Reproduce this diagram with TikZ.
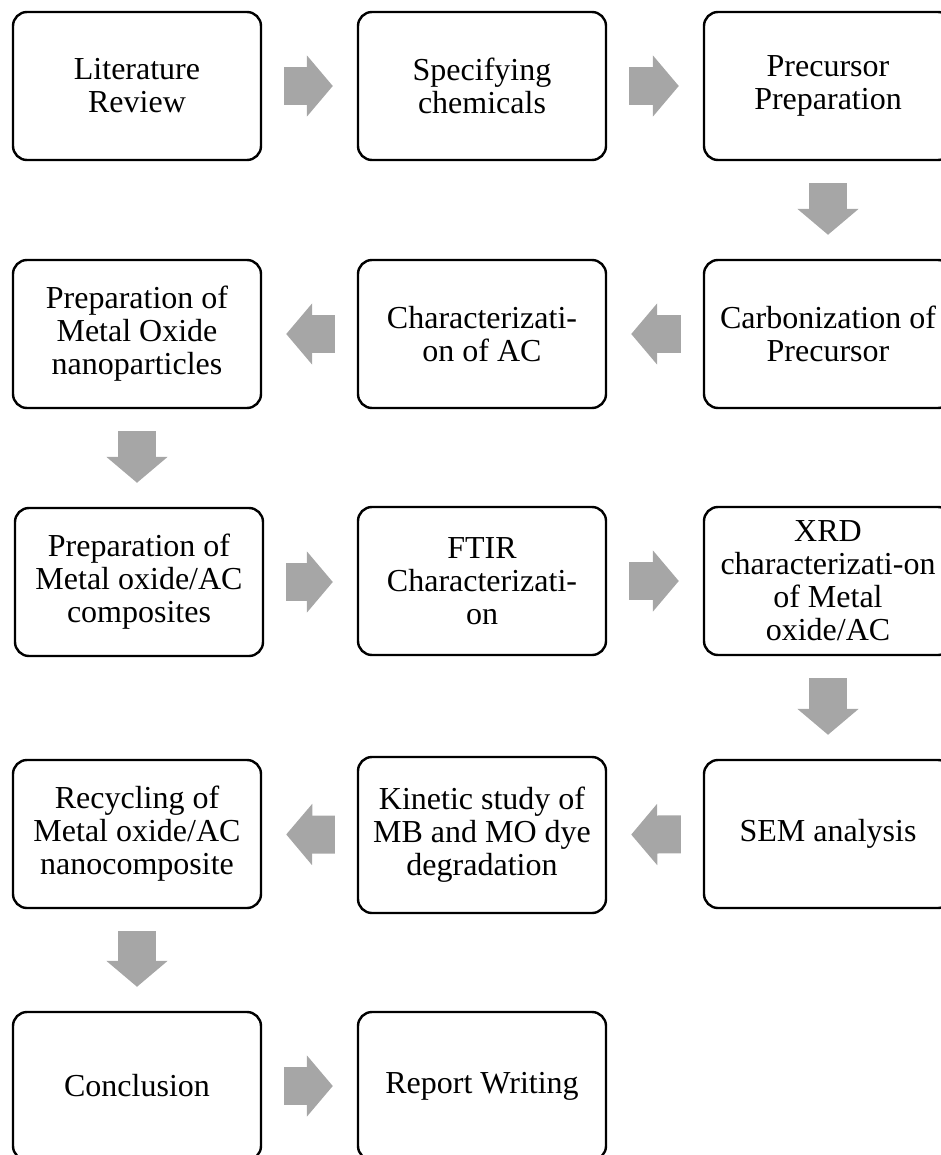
\documentclass[tikz,border=0pt]{standalone}
\usepackage{fontspec}
\setmainfont{Liberation Serif}
\usetikzlibrary{arrows.meta}
\definecolor{arrowgray}{RGB}{166,166,166}
\tikzset{
  stepbox/.style={draw, line width=2.4pt, rounded corners=14pt,
    minimum width=248pt, minimum height=148pt, align=center,
    font=\fontsize{32}{33}\selectfont},
  flow/.style={draw=arrowgray, line width=38pt,
    -{Triangle[length=26pt,width=60pt]},
    shorten <=22pt, shorten >=24pt}
}
\begin{document}
\begin{tikzpicture}[x=1pt,y=-1pt]
      \useasboundingbox (0,0) rectangle (941,1155);
      \clip (0,0) rectangle (941,1155);
      \draw
        (137,86) node[stepbox] (lit){Literature\\Review}
        (482,86) node[stepbox] (spec){Specifying\\chemicals}
        (828,86) node[stepbox] (prec){Precursor\\Preparation}
        (828,334) node[stepbox] (carb){Carbonization of\\Precursor}
        (482,334) node[stepbox] (charac){Characterizati-\\on of AC}
        (137,334) node[stepbox] (prepmo){Preparation of\\Metal Oxide\\nanoparticles}
        (139,582) node[stepbox] (comp){Preparation of\\Metal oxide/AC\\composites}
        (482,581) node[stepbox] (ftir){FTIR\\Characterizati-\\on}
        (828,581) node[stepbox] (xrd){XRD\\characterizati-on\\of Metal\\oxide/AC}
        (828,834) node[stepbox] (sem){SEM analysis}
        (482,835) node[stepbox, minimum height=156pt] (kin){Kinetic study of\\MB and MO dye\\degradation}
        (137,834) node[stepbox] (recy){Recycling of\\Metal oxide/AC\\nanocomposite}
        (137,1086) node[stepbox] (concl){Conclusion}
        (482,1086) node[stepbox] (report){Report Writing};
      \begin{scope}[flow]
        \draw (lit) to (spec);
        \draw (spec) to (prec);
        \draw (prec) to (carb);
        \draw (carb) to (charac);
        \draw (charac) to (prepmo);
        \draw (prepmo.south) to (prepmo.south |- comp.north);
        \draw (comp) to (comp -| ftir.west);
        \draw (ftir) to (xrd);
        \draw (xrd) to (sem);
        \draw (sem) to (kin);
        \draw (kin) to (recy);
        \draw (recy) to (concl);
        \draw (concl) to (report);
      \end{scope}
    \end{tikzpicture}
\end{document}
